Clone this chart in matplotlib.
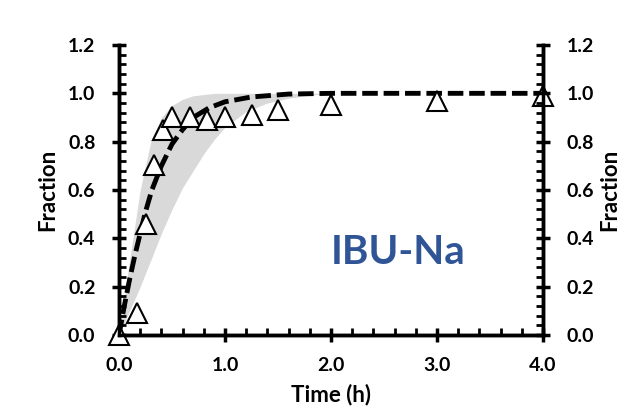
import matplotlib
matplotlib.use("Agg")
import matplotlib.pyplot as plt
from matplotlib.ticker import MultipleLocator, FormatStrFormatter

plt.rcParams['font.family'] = ['Lato', 'DejaVu Sans']
plt.rcParams['font.weight'] = 'bold'

# Observed data (triangles)
obs_t = [0.0, 0.167, 0.25, 0.333, 0.417, 0.5, 0.667, 0.833, 1.0, 1.25, 1.5, 2.0, 3.0, 4.0]
obs_y = [0.0, 0.09, 0.46, 0.705, 0.85, 0.90, 0.90, 0.89, 0.90, 0.91, 0.93, 0.95, 0.97, 0.99]

# Model prediction (dashed line)
mod_t = [0, 0.05, 0.1, 0.15, 0.2, 0.25, 0.31, 0.4, 0.5, 0.6, 0.7, 0.85, 1.0, 1.25, 1.6, 2.0, 4.0]
mod_y = [0, 0.12, 0.23, 0.33, 0.42, 0.51, 0.6, 0.7, 0.79, 0.85, 0.9, 0.94, 0.965, 0.985, 0.997, 1.0, 1.0]

# Prediction band (grey)
band_t = [0, 0.1, 0.2, 0.3, 0.4, 0.5, 0.6, 0.7, 0.8, 0.9, 1.0, 1.2, 1.4, 1.6, 1.8, 2.0, 4.0]
band_hi = [0, 0.31, 0.6, 0.8, 0.9, 0.95, 0.975, 0.99, 0.995, 1.0, 1.0, 1.0, 1.0, 1.0, 1.0, 1.0, 1.0]
band_lo = [0, 0.1, 0.2, 0.31, 0.42, 0.52, 0.61, 0.68, 0.75, 0.81, 0.86, 0.925, 0.96, 0.98, 0.993, 1.0, 1.0]

fig = plt.figure(figsize=(6.41, 4.13), dpi=100)
ax = fig.add_axes([119/641, 1-335/413, (543-119)/641, (335-45)/413])
ax2 = ax.twinx()

ax.fill_between(band_t, band_lo, band_hi, color='#d9d9d9', lw=0, zorder=1)
ax.plot(mod_t, mod_y, color='black', lw=3.5, dashes=(3.2, 1.2), zorder=2)
ax.plot(obs_t, obs_y, ls='none', marker='^', ms=14, mfc='white', mec='black',
        mew=1.5, zorder=3, clip_on=False)

for a, lp in ((ax, 7), (ax2, 4)):
    a.set_xlim(0, 4)
    a.set_ylim(0, 1.2)
    a.yaxis.set_major_locator(MultipleLocator(0.2))
    a.yaxis.set_minor_locator(MultipleLocator(0.04))
    a.yaxis.set_major_formatter(FormatStrFormatter('%.1f'))
    a.spines['top'].set_visible(False)
    for s in ['left', 'right', 'bottom']:
        a.spines[s].set_linewidth(2.5)
    a.tick_params(axis='both', which='major', direction='inout', length=10, width=2.5,
                  labelsize=14, pad=12)
    a.tick_params(axis='both', which='minor', direction='in', length=5, width=2)
    a.set_ylabel('Fraction', fontsize=16, fontweight='bold', labelpad=lp)

ax.xaxis.set_major_locator(MultipleLocator(1))
ax.xaxis.set_minor_locator(MultipleLocator(0.2))
ax.xaxis.set_major_formatter(FormatStrFormatter('%.1f'))
ax.tick_params(axis='x', which='major', pad=11)
ax.set_xlabel('Time (h)', fontsize=16, fontweight='bold', labelpad=7)

ax.text(2.63, 0.34, 'IBU-Na', color='#2f5597', fontsize=29, fontweight='bold',
        ha='center', va='center')

fig.savefig('out.png', dpi=100)
